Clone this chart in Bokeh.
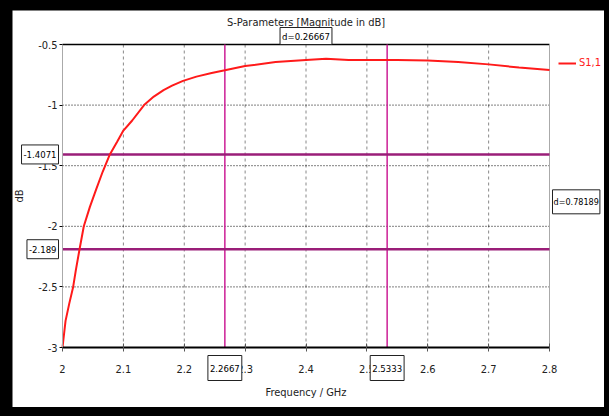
from bokeh.plotting import figure
from bokeh.models import Range1d, FixedTicker, Label, Legend, LegendItem
from bokeh.layouts import column
from bokeh.embed import file_html
from bokeh.resources import INLINE

# ---- data ----
freq = [2.0, 2.005, 2.011, 2.0175, 2.022, 2.028, 2.035, 2.045, 2.055, 2.066, 2.0778,
        2.09, 2.1, 2.1145, 2.134, 2.15, 2.166, 2.18, 2.198, 2.22, 2.245, 2.2667,
        2.3, 2.35, 2.4, 2.433, 2.47, 2.5, 2.55, 2.6, 2.65, 2.7, 2.75, 2.8]
s11 = [-3.0, -2.78, -2.64, -2.5, -2.36, -2.189, -2.0, -1.84, -1.70, -1.55, -1.407,
       -1.3, -1.21, -1.127, -1.0, -0.93, -0.877, -0.84, -0.80, -0.765, -0.735, -0.713,
       -0.678, -0.645, -0.628, -0.617, -0.627, -0.628, -0.628, -0.632, -0.645, -0.664, -0.69, -0.71]
x_ticks = [2.0, 2.1, 2.2, 2.3, 2.4, 2.5, 2.6, 2.7, 2.8]
x_tick_labels = ["2", "2.1", "2.2", "2.3", "2.4", "2.5", "2.6", "2.7", "2.8"]
y_ticks = [-3.0, -2.5, -2.0, -1.5, -1.0, -0.5]
y_tick_labels = ["-3", "-2.5", "-2", "-1.5", "-1", "-0.5"]
x_markers = [2.2667, 2.5333]
x_marker_labels = ["2.2667", "2.5333"]
y_markers = [-1.4071, -2.189]
y_marker_labels = ["-1.4071", "-2.189"]
x_delta_label = "d=0.26667"
y_delta_label = "d=0.78189"
series_name = "S1,1"
title_text = "S-Parameters [Magnitude in dB]"

XMIN, XMAX = x_ticks[0], x_ticks[-1]
YMIN, YMAX = y_ticks[0], y_ticks[-1]

FONT = "DejaVu Sans Condensed, Liberation Sans, sans-serif"
FS = "11px"
BFS = "9.5px"
TXT = "#222222"

W, H = 592, 397
# pixel margins of the plotting rectangle inside the canvas
ML, MR, MT, MB = 50, 55, 34, 60
kx = (W - ML - MR) / (XMAX - XMIN)
ky = (H - MT - MB) / (YMAX - YMIN)

p = figure(width=W, height=H, output_backend="svg", toolbar_location=None,
           x_range=Range1d(XMIN - ML / kx, XMAX + MR / kx),
           y_range=Range1d(YMIN - MB / ky, YMAX + MT / ky),
           min_border=0)
p.title.visible = False
p.outline_line_color = None
p.background_fill_color = "white"
p.border_fill_color = "white"
p.xgrid.visible = False
p.ygrid.visible = False

# axes drawn at fixed locations inside the canvas
xa, ya = p.xaxis[0], p.yaxis[0]
xa.fixed_location = YMIN
ya.fixed_location = XMIN
xa.bounds = (XMIN, XMAX)
ya.bounds = (YMIN, YMAX)
xa.ticker = FixedTicker(ticks=x_ticks)
xa.major_label_overrides = {t: l for t, l in zip(x_ticks, x_tick_labels)}
ya.ticker = FixedTicker(ticks=y_ticks)
ya.major_label_overrides = {t: l for t, l in zip(y_ticks, y_tick_labels)}
for ax in (xa, ya):
    ax.major_label_text_font = FONT
    ax.major_label_text_font_size = FS
    ax.major_label_text_color = TXT
    ax.minor_tick_line_color = None
    ax.axis_label_text_font = FONT
    ax.axis_label_text_font_size = FS
    ax.axis_label_text_font_style = "normal"
    ax.axis_label_text_color = TXT
xa.axis_label = "Frequency / GHz"
xa.axis_line_color = "black"
xa.axis_line_width = 2
xa.major_tick_line_color = "#555555"
xa.major_tick_in = 4
xa.major_tick_out = 4
xa.major_label_standoff = 13
xa.axis_label_standoff = 10
ya.axis_label = "dB"
ya.axis_line_color = "#aaaaaa"
ya.major_tick_line_color = "black"
ya.major_tick_in = 0
ya.major_tick_out = 3
ya.major_label_standoff = 2
ya.axis_label_standoff = 9

# grid lines (interior ticks only)
gx = x_ticks[1:-1]
p.segment(x0=gx, y0=[YMIN] * len(gx), x1=gx, y1=[YMAX] * len(gx),
          line_color="#888888", line_dash="3 3", line_width=1)
gy = y_ticks[1:-1]
p.segment(x0=[XMIN] * len(gy), y0=gy, x1=[XMAX] * len(gy), y1=gy,
          line_color="black", line_dash="1 2", line_width=1)

# frame top / right
p.segment(x0=[XMIN], y0=[YMAX], x1=[XMAX], y1=[YMAX], line_color="black", line_width=1.5)
p.segment(x0=[XMAX], y0=[YMIN], x1=[XMAX], y1=[YMAX], line_color="#aaaaaa", line_width=1)

# markers
p.segment(x0=x_markers, y0=[YMIN] * 2, x1=x_markers, y1=[YMAX] * 2,
          line_color="#cc1f96", line_width=1.5)
p.segment(x0=[XMIN] * 2, y0=y_markers, x1=[XMAX] * 2, y1=y_markers,
          line_color="#9a1e78", line_width=2.5)

# curve
curve = p.line(freq, s11, line_color="#ff1a1a", line_width=2)

box_kw = dict(text_font=FONT, text_color="black",
              background_fill_color="white", border_line_color="#222222",
              border_line_width=1)

for xm, lab in zip(x_markers, x_marker_labels):
    p.add_layout(Label(x=xm, y=YMIN, text=lab, text_align="center", text_baseline="top",
                       y_offset=-8, padding=(2, 9), text_font_size=BFS, **box_kw))
for ym, lab in zip(y_markers, y_marker_labels):
    p.add_layout(Label(x=XMIN, y=ym, text=lab, text_align="right", text_baseline="middle",
                       x_offset=-4, padding=(2, 6), text_font_size=BFS, **box_kw))
p.add_layout(Label(x=XMAX, y=(y_markers[0] + y_markers[1]) / 2, text=y_delta_label,
                   text_align="left", text_baseline="middle", x_offset=3, padding=(1, 7),
                   text_font_size="9px", **box_kw))
p.add_layout(Label(x=(x_markers[0] + x_markers[1]) / 2, y=YMAX, text=x_delta_label,
                   text_align="center", text_baseline="bottom", y_offset=0, padding=(2, 3),
                   text_font_size=BFS, **box_kw))

# title
p.add_layout(Label(x=(XMIN + XMAX) / 2, y=YMAX, text=title_text, text_align="center",
                   text_baseline="middle", y_offset=22, text_font=FONT,
                   text_font_size=FS, text_color=TXT))

# legend
legend = Legend(items=[LegendItem(label=series_name, renderers=[curve])],
                location=(546, 338), background_fill_alpha=0, border_line_color=None,
                padding=0, margin=0, glyph_width=18, glyph_height=12, label_standoff=3,
                label_text_font=FONT, label_text_font_size=FS, label_text_color="#ff1a1a")
p.add_layout(legend)

layout = column(p, styles={"background-color": "black", "padding": "10px 5px 9px 12px"})

open("out.html", "w").write(file_html(layout, INLINE))
